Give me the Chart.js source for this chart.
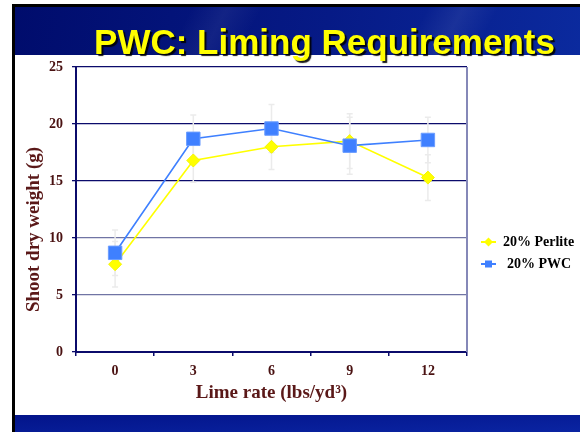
<!DOCTYPE html>
<html>
<head>
<meta charset="utf-8">
<script src="https://cdn.jsdelivr.net/npm/chart.js@4.4.1/dist/chart.umd.min.js"></script>
<style>
  html, body { margin: 0; padding: 0; background: #fff; }
  #slide { position: relative; width: 580px; height: 432px; overflow: hidden; background: #fff; }
  #topline { position: absolute; left: 12px; top: 4px; width: 568px; height: 3px; background: #000; }
  #leftline { position: absolute; left: 12px; top: 4px; width: 3px; height: 428px; background: #000; }
  #header {
    position: absolute; left: 15px; top: 7px; width: 565px; height: 48px;
    background:
      linear-gradient(118deg, rgba(255,255,255,0) 30%, rgba(255,255,255,0.06) 36%, rgba(255,255,255,0) 42%),
      linear-gradient(118deg, rgba(255,255,255,0) 70%, rgba(255,255,255,0.07) 76%, rgba(255,255,255,0) 82%),
      linear-gradient(100deg, #000c6c 0%, #061a86 55%, #0b2a9e 100%);
  }
  #footer {
    position: absolute; left: 15px; top: 415px; width: 565px; height: 17px;
    background: linear-gradient(178deg, #03148a 0%, #0a24a2 100%);
  }
  #title {
    position: absolute; left: 0; top: 24px; width: 649px; text-align: center;
    font: bold 35px "Liberation Sans", Arial, sans-serif; line-height: 35px;
    color: #ffff00; text-shadow: 2px 2px 1px rgba(0,0,0,0.9); z-index: 3;
  }
  #c { position: absolute; left: 0; top: 0; z-index: 2; }
</style>
</head>
<body>
<div id="slide">
  <div id="topline"></div>
  <div id="leftline"></div>
  <div id="header"></div>
  <div id="footer"></div>
  <div id="title">PWC: Liming Requirements</div>
  <canvas id="c" width="580" height="432"></canvas>
</div>
<script>
const limeRates  = ['0', '3', '6', '9', '12'];
const perlite    = [7.7, 16.8, 18.0, 18.5, 15.3];
const perliteErr = [2.0, 1.9, 2.0, 2.4, 2.0];
const pwc        = [8.7, 18.7, 19.6, 18.1, 18.6];
const pwcErr     = [2.0, 2.1, 2.1, 2.5, 2.0];

const yTitle = 'Shoot dry weight (g)';
const xTitle = 'Lime rate (lbs/yd\u00B3)';

const NAVY = '#0b0b6b';
const BROWN = '#4a1212';

// faint error bars behind the markers
const errorBars = {
  id: 'errorBars',
  beforeDatasetsDraw(chart) {
    const { ctx, scales: { y } } = chart;
    ctx.save();
    ctx.strokeStyle = '#ebebeb';
    ctx.lineWidth = 1.5;
    chart.data.datasets.forEach((ds, di) => {
      chart.getDatasetMeta(di).data.forEach((pt, i) => {
        const top = y.getPixelForValue(ds.data[i] + ds.errors[i]);
        const bot = y.getPixelForValue(ds.data[i] - ds.errors[i]);
        ctx.beginPath();
        ctx.moveTo(pt.x, top); ctx.lineTo(pt.x, bot);
        ctx.moveTo(pt.x - 3, top); ctx.lineTo(pt.x + 3, top);
        ctx.moveTo(pt.x - 3, bot); ctx.lineTo(pt.x + 3, bot);
        ctx.stroke();
      });
    });
    ctx.restore();
  }
};

// right border, y title (sits a bit below centre) and the legend
const extras = {
  id: 'extras',
  afterDraw(chart) {
    const { ctx, chartArea: a } = chart;
    ctx.save();
    ctx.strokeStyle = '#8588b8';
    ctx.lineWidth = 2;
    ctx.beginPath();
    ctx.moveTo(a.right, a.top); ctx.lineTo(a.right, a.bottom);
    ctx.stroke();

    ctx.fillStyle = '#5a1818';
    ctx.font = 'bold 19px "Liberation Serif", "Times New Roman", serif';
    ctx.textAlign = 'center';
    ctx.textBaseline = 'middle';
    ctx.translate(34, (a.top + a.bottom) / 2 + 20);
    ctx.rotate(-Math.PI / 2);
    ctx.fillText(yTitle, 0, 0);
    ctx.restore();

    ctx.save();
    ctx.font = 'bold 14px "Liberation Serif", "Times New Roman", serif';
    ctx.textBaseline = 'middle';
    chart.data.datasets.forEach((ds, i) => {
      const ly = 242 + i * 22;
      const lx = a.right + 14;
      ctx.strokeStyle = ds.borderColor;
      ctx.lineWidth = 2;
      ctx.beginPath(); ctx.moveTo(lx, ly); ctx.lineTo(lx + 15, ly); ctx.stroke();
      ctx.fillStyle = ds.pointBackgroundColor;
      ctx.beginPath();
      if (ds.pointStyle === 'rectRot') {
        ctx.moveTo(lx + 7.5 - 4.5, ly); ctx.lineTo(lx + 7.5, ly - 4.5);
        ctx.lineTo(lx + 7.5 + 4.5, ly); ctx.lineTo(lx + 7.5, ly + 4.5);
      } else {
        ctx.rect(lx + 7.5 - 3.5, ly - 3.5, 7, 7);
      }
      ctx.closePath(); ctx.fill();
      ctx.fillStyle = '#000';
      ctx.fillText(ds.label, lx + 22 + i * 4, ly);
    });
    ctx.restore();
  }
};

new Chart(document.getElementById('c'), {
  type: 'line',
  data: {
    labels: limeRates,
    datasets: [
      {
        label: '20% Perlite',
        data: perlite,
        errors: perliteErr,
        borderColor: '#ffff00',
        backgroundColor: '#ffff00',
        pointBackgroundColor: '#ffff00',
        pointBorderColor: '#f4f400',
        borderWidth: 1.6,
        pointStyle: 'rectRot',
        pointRadius: 6.5,
        pointBorderWidth: 1,
        tension: 0,
        order: 2
      },
      {
        label: '20% PWC',
        data: pwc,
        errors: pwcErr,
        borderColor: '#3f80ff',
        backgroundColor: '#3f80ff',
        pointBackgroundColor: '#3f80ff',
        pointBorderColor: '#6b9dff',
        borderWidth: 1.6,
        pointStyle: 'rect',
        pointRadius: 9.5,
        pointBorderWidth: 1,
        tension: 0,
        order: 1
      }
    ]
  },
  options: {
    responsive: false,
    animation: false,
    layout: { padding: { left: 14, top: 67, right: 113, bottom: 28 } },
    plugins: {
      legend: { display: false },
      tooltip: { enabled: false }
    },
    scales: {
      x: {
        offset: true,
        grid: { display: true, offset: true, drawOnChartArea: false, tickLength: 4, color: NAVY, lineWidth: 1.5 },
        border: { color: NAVY, width: 2 },
        ticks: { color: BROWN, padding: 7, font: { family: '"Liberation Serif", serif', size: 14, weight: 'bold' } },
        title: { display: true, text: xTitle, color: '#5a1818', padding: 0,
                 font: { family: '"Liberation Serif", serif', size: 19, weight: 'bold' } },
        afterFit(s) { s.height = 52; }
      },
      y: {
        min: 0, max: 25,
        grid: {
          tickLength: 4,
          lineWidth: 1.3,
          color: c => (c.tick.value === 5 || c.tick.value === 10) ? '#7074a4' : NAVY,
          tickColor: NAVY
        },
        border: { color: NAVY, width: 2 },
        ticks: { stepSize: 5, color: BROWN, padding: 9, font: { family: '"Liberation Serif", serif', size: 14, weight: 'bold' } },
        afterFit(s) { s.width = 62; }
      }
    }
  },
  plugins: [errorBars, extras]
});
</script>
</body>
</html>
